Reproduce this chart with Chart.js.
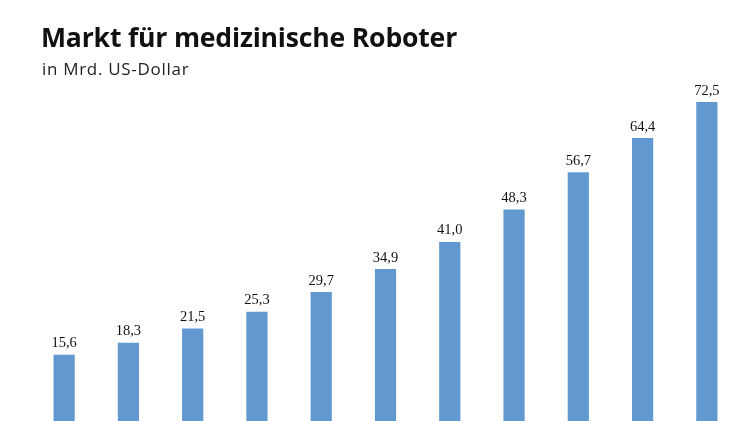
<!DOCTYPE html>
<html lang="de">
<head>
  <meta charset="UTF-8">
  <title>Markt für medizinische Roboter</title>
  <style>
    html, body { margin: 0; padding: 0; background: #fff; }
    .wrap { position: relative; width: 750px; height: 421px; overflow: hidden; }
    h1 { position: absolute; left: 41px; top: 19px; margin: 0; font: 700 26.6px "Open Sans", sans-serif; color: #111; letter-spacing: -0.2px; }
    .sub { position: absolute; left: 42px; top: 57px; margin: 0; font: 400 17px "Open Sans", sans-serif; color: #222; letter-spacing: 0.7px; }
    canvas { position: absolute; left: 0; top: 0; }
  </style>
</head>
<body>
  <div class="wrap">
    <canvas id="myChart" width="750" height="421"></canvas>
    <h1>Markt für medizinische Roboter</h1>
    <p class="sub">in Mrd. US-Dollar</p>
  </div>
  <script src="https://cdn.jsdelivr.net/npm/chart.js@4/dist/chart.umd.min.js"></script>
  <script>
    const years = ['1', '2', '3', '4', '5', '6', '7', '8', '9', '10', '11'];
    const values = [15.6, 18.3, 21.5, 25.3, 29.7, 34.9, 41.0, 48.3, 56.7, 64.4, 72.5];

    // value labels above each bar, German decimal comma
    const valueLabels = {
      id: 'valueLabels',
      afterDatasetsDraw(chart) {
        const ctx = chart.ctx;
        const meta = chart.getDatasetMeta(0);
        ctx.save();
        ctx.font = '14.5px "Liberation Serif", serif';
        ctx.fillStyle = '#111';
        ctx.textAlign = 'center';
        ctx.textBaseline = 'bottom';
        meta.data.forEach(function (bar, i) {
          ctx.fillText(values[i].toFixed(1).replace('.', ','), bar.x, bar.y - 4);
        });
        ctx.restore();
      }
    };

    const ctx = document.getElementById('myChart').getContext('2d');
    new Chart(ctx, {
      type: 'bar',
      data: {
        labels: years,
        datasets: [{
          data: values,
          backgroundColor: '#6198d0',
          barPercentage: 0.33,
          categoryPercentage: 1
        }]
      },
      options: {
        responsive: false,
        animation: false,
        layout: { padding: { top: 86.5, left: 32, right: 11, bottom: 0 } },
        plugins: { legend: { display: false }, tooltip: { enabled: false } },
        scales: {
          x: { display: false },
          y: { display: false, min: 0.68, max: 76 }
        }
      },
      plugins: [valueLabels]
    });
  </script>
</body>
</html>
